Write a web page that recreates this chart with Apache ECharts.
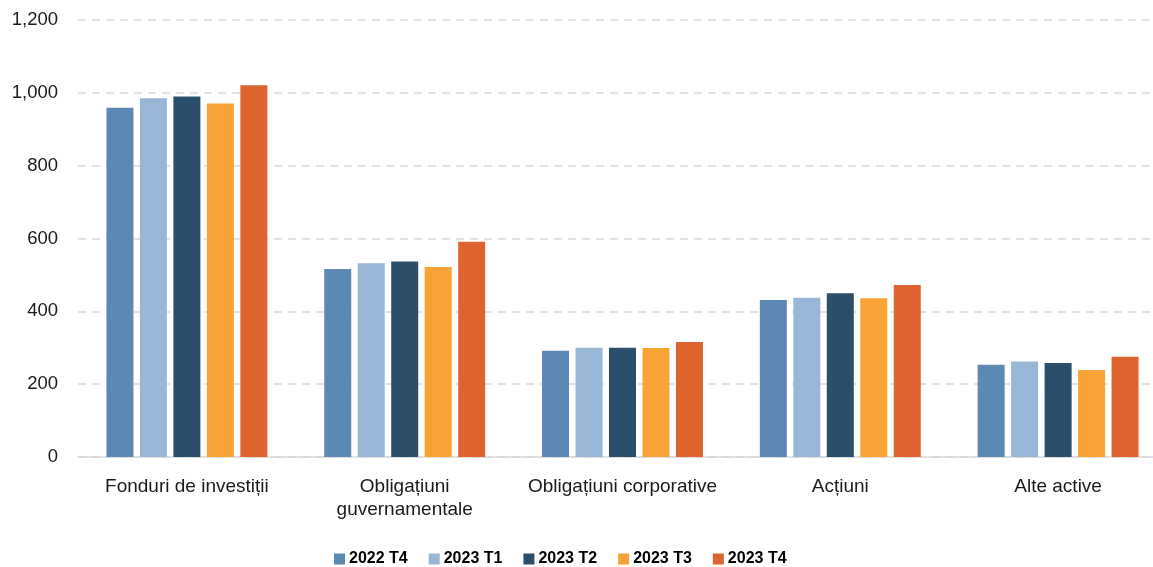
<!DOCTYPE html>
<html>
<head>
<meta charset="utf-8">
<script src="https://cdn.jsdelivr.net/npm/echarts@6/dist/echarts.min.js"></script>
<style>
  html, body { margin: 0; padding: 0; background: #fff; }
  #main { width: 1153px; height: 567px; }
</style>
</head>
<body>
<div id="main"></div>
<script>
// categorii si serii
var categorii = ['Fonduri de investiții', 'Obligațiuni\nguvernamentale', 'Obligațiuni corporative', 'Acțiuni', 'Alte active'];
var perioade = ['2022 T4', '2023 T1', '2023 T2', '2023 T3', '2023 T4'];
var culori = ['#5b89b3', '#98b6d6', '#2b4e6a', '#f9a236', '#dd642e'];

var v2022T4 = [959, 516, 292, 431, 253];
var v2023T1 = [985, 532, 300, 437, 262];
var v2023T2 = [990, 537, 300, 450, 258];
var v2023T3 = [971, 522, 299, 436, 239];
var v2023T4 = [1021, 591, 316, 472, 275];

var valori = [v2022T4, v2023T1, v2023T2, v2023T3, v2023T4];

var myChart = echarts.init(document.getElementById('main'));

var serii = [];
for (var i = 0; i < perioade.length; i++) {
    serii.push({
        name: perioade[i],
        type: 'bar',
        data: valori[i],
        barWidth: 27,
        barGap: '24%',
        itemStyle: { color: culori[i] }
    });
}

var option = {
    animation: false,
    textStyle: { fontFamily: 'Liberation Sans' },
    grid: {
        left: 78,
        top: 20,
        width: 1089,
        bottom: 110,
        outerBoundsMode: 'none'
    },
    legend: {
        data: perioade,
        left: 329,
        top: 546,
        itemWidth: 11,
        itemHeight: 11,
        itemGap: 21,
        icon: 'rect',
        textStyle: {
            fontSize: 16,
            fontWeight: 'bold',
            color: '#000',
            padding: [0, 0, 0, -1]
        }
    },
    xAxis: {
        type: 'category',
        data: categorii,
        axisTick: { show: false },
        axisLine: { lineStyle: { color: '#d9d9d9', width: 1.5 } },
        axisLabel: {
            color: '#1a1a1a',
            fontSize: 19,
            margin: 18,
            lineHeight: 23,
            interval: 0
        }
    },
    yAxis: {
        type: 'value',
        min: 0,
        max: 1200,
        interval: 200,
        axisLine: { show: false },
        axisTick: { show: false },
        axisLabel: {
            color: '#1a1a1a',
            fontSize: 18.5,
            margin: 20,
            formatter: function (val) {
                return val.toString().replace(/\B(?=(\d{3})+(?!\d))/g, ',');
            }
        },
        splitLine: {
            lineStyle: { color: '#d9d9d9', width: 1.5, type: [8, 6] }
        }
    },
    series: serii
};

myChart.setOption(option);

window.onresize = function () {
    myChart.resize();
};
</script>
</body>
</html>
